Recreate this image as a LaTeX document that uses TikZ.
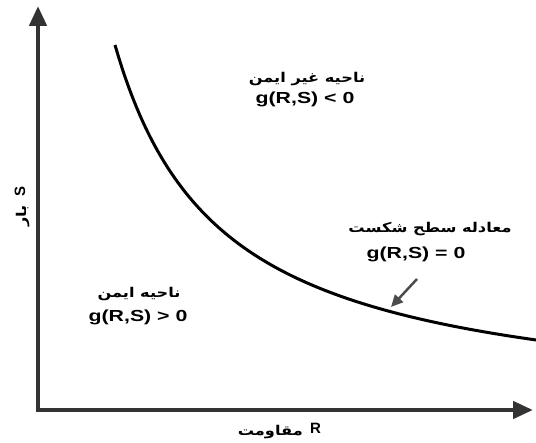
\documentclass[tikz,border=0pt]{standalone}
\usepackage{graphicx}
\usepackage{fontspec}
\setmainfont{Liberation Sans}
\newfontfamily\fa[Script=Arabic]{DejaVu Sans}
\TeXXeTstate=1
\usetikzlibrary{arrows.meta}
\newcommand\widetxt[1]{\scalebox{1.33}[1]{#1}}
\newcommand\widefa[1]{\scalebox{1.2}[1]{\beginR #1\endR}}
\begin{document}
\begin{tikzpicture}[x=1pt,y=-1pt,
  axis/.style={line width=4.5pt, draw=black!80, -{Triangle[length=20pt,width=17pt]}},
  curve/.style={line width=3pt, draw=black},
  pointer/.style={line width=2.5pt, draw=black!70, -{Triangle[length=12pt,width=11pt]}},
  eq/.style={font=\bfseries\fontsize{16}{19}\selectfont, inner sep=0, anchor=base},
  fatext/.style={font=\fa\bfseries\fontsize{13.5}{16}\selectfont, inner sep=0, anchor=base},
  axlabel/.style={font=\bfseries\fontsize{15}{18}\selectfont, inner sep=0, anchor=base},
]
\useasboundingbox (0,0) rectangle (536,443);
% axes
\coordinate (Ocorner) at (38,412.5);
\coordinate (Oleft) at (35.75,410);
\coordinate (Ytop) at (38,6);
\coordinate (Xend) at (533,410);
\draw[axis] (Ocorner) -- (Ytop);
\draw[axis] (Oleft) -- (Xend);
% limit state curve
\draw[curve] plot[domain=115:536, samples=120] (\x, {414.2 - 391.23/((\x-9.04)/100)});
% pointer arrow
\coordinate (pS) at (417,279);
\coordinate (pE) at (391,307);
\draw[pointer] (pS) -- (pE);
% region labels
\node[fatext] (unsafe) at (307,83) {\widefa{ناحیه غیر ایمن}};
\node[eq] (gneg) at (305,104) {\widetxt{g(R,S) < 0}};
\node[fatext] (surf) at (430,233) {\widefa{معادله سطح شکست}};
\node[eq] (gzero) at (416,259) {\widetxt{g(R,S) = 0}};
\node[fatext] (safe) at (139,298) {\widefa{ناحیه ایمن}};
\node[eq] (gpos) at (138,322) {\widetxt{g(R,S) > 0}};
% axis labels
\node[axlabel, anchor=base west] (R) at (310,434) {R};
\node[fatext, anchor=base east] (resist) at (303,436) {\widefa{مقاومت}};
\node[axlabel, rotate=90, anchor=base west] (S) at (25,197) {S};
\node[fatext, rotate=90, anchor=base east] (load) at (27,205) {\widefa{بار}};
\end{tikzpicture}
\end{document}
